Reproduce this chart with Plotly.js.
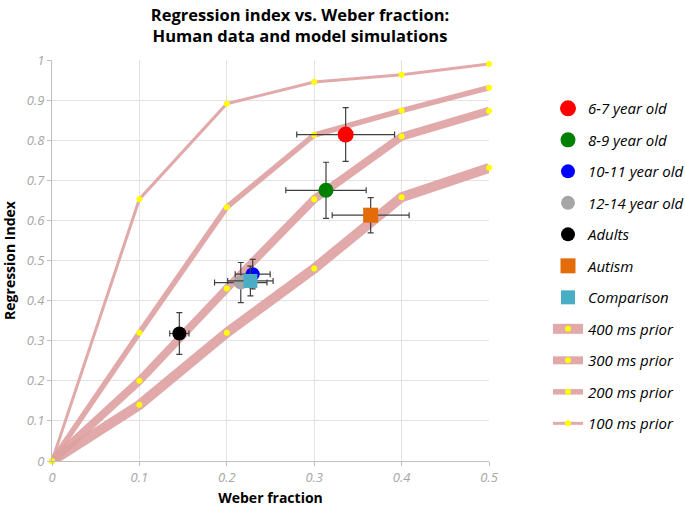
<!DOCTYPE html>
<html>
<head>
<meta charset="utf-8">
<script src="https://cdn.plot.ly/plotly-3.0.1.min.js"></script>
<style>html,body{margin:0;padding:0;background:#fff}#chart{width:685px;height:508px}</style>
</head>
<body>
<div id="chart"></div>
<script>
// Model simulation curves
const weber = [0, 0.1, 0.2, 0.3, 0.4, 0.5];
const prior400 = [0, 0.14, 0.32, 0.48, 0.658, 0.731];
const prior300 = [0, 0.20, 0.43, 0.653, 0.809, 0.873];
const prior200 = [0, 0.32, 0.633, 0.813, 0.874, 0.931];
const prior100 = [0, 0.653, 0.891, 0.945, 0.963, 0.990];

// Human data
const groupNames = ["6-7 year old", "8-9 year old", "10-11 year old", "12-14 year old", "Adults", "Autism", "Comparison"];
const groupX = [0.336, 0.3135, 0.2296, 0.216, 0.1457, 0.3646, 0.227];
const groupY = [0.814, 0.675, 0.466, 0.445, 0.318, 0.613, 0.449];
const groupXErr = [0.056, 0.046, 0.02, 0.03, 0.011, 0.044, 0.026];
const groupYErr = [0.067, 0.07, 0.037, 0.05, 0.052, 0.044, 0.037];

const groupColors = ["#ff0000", "#008000", "#0000ff", "#a6a6a6", "#000000", "#e36c09", "#4bacc6"];
const groupSymbols = ["circle", "circle", "circle", "circle", "circle", "square", "square"];
const groupSizes = [16, 15, 14, 14, 14, 15, 14];

const lineColor = "rgba(222,160,160,0.9)";
const curves = [
  {name: "400 ms prior", y: prior400, w: 10},
  {name: "300 ms prior", y: prior300, w: 8},
  {name: "200 ms prior", y: prior200, w: 5.5},
  {name: "100 ms prior", y: prior100, w: 3}
];

const traces = [];
curves.forEach((c, i) => {
  traces.push({
    type: "scatter", mode: "lines+markers", x: weber, y: c.y, name: c.name,
    line: {color: lineColor, width: c.w},
    marker: {color: "#ffff00", size: 6, line: {width: 0}},
    cliponaxis: false,
    legendgroup: "c" + i, legendrank: 100 + i
  });
});
groupNames.forEach((n, i) => {
  traces.push({
    type: "scatter", mode: "markers", x: [groupX[i]], y: [groupY[i]], name: n,
    marker: {color: groupColors[i], size: groupSizes[i], symbol: groupSymbols[i], line: {width: 0}},
    error_x: {type: "constant", value: groupXErr[i], color: "#404040", thickness: 1.2, width: 3},
    error_y: {type: "constant", value: groupYErr[i], color: "#404040", thickness: 1.2, width: 3},
    legendgroup: "g" + i, legendrank: i + 1
  });
});

const layout = {
  width: 685, height: 508,
  margin: {l: 52, r: 196, t: 60, b: 47, autoexpand: false},
  paper_bgcolor: "#fff", plot_bgcolor: "#fff",
  font: {family: "Open Sans, Liberation Sans, sans-serif", color: "#000"},
  title: {
    text: "<b>Regression index vs. Weber fraction:<br>Human data and model simulations</b>",
    x: 300 / 685, xref: "container", xanchor: "center",
    y: 1 - 21 / 508, yref: "container", yanchor: "middle",
    font: {size: 16.5, color: "#000"}
  },
  xaxis: {
    range: [0, 0.5], dtick: 0.1, tick0: 0,
    showgrid: true, gridcolor: "#e3e3e3", gridwidth: 1,
    zeroline: false, showline: true, linecolor: "#bfbfbf", linewidth: 1,
    ticks: "outside", ticklen: 4, tickcolor: "#bfbfbf",
    tickfont: {size: 13, color: "#a6a6a6", style: "italic"},
    title: {text: "<b>Weber fraction</b>", font: {size: 14, color: "#000"}, standoff: 8}
  },
  yaxis: {
    range: [0, 1], dtick: 0.1, tick0: 0,
    showgrid: true, gridcolor: "#e3e3e3", gridwidth: 1,
    zeroline: false, showline: true, linecolor: "#bfbfbf", linewidth: 1,
    ticks: "outside", ticklen: 4, tickcolor: "#bfbfbf",
    tickfont: {size: 13, color: "#a6a6a6", style: "italic"},
    title: {text: "<b>Regression Index</b>", font: {size: 14, color: "#000"}, standoff: 8}
  },
  showlegend: true,
  legend: {
    xref: "container", x: 548 / 685, xanchor: "left", y: 0.92, yanchor: "top",
    font: {size: 15, color: "#000", style: "italic"},
    tracegroupgap: 9, itemwidth: 30,
    bgcolor: "rgba(0,0,0,0)"
  }
};

Plotly.newPlot("chart", traces, layout, {displayModeBar: false, staticPlot: true});
</script>
</body>
</html>
